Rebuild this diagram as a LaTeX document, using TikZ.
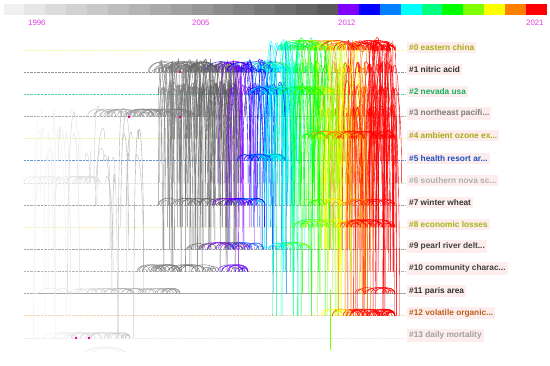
\documentclass[tikz,border=0pt]{standalone}
\usepackage{fontspec}
\setmainfont{Liberation Sans}
\definecolor{c0}{RGB}{240,240,240}
\definecolor{c1}{RGB}{230,230,230}
\definecolor{c2}{RGB}{220,220,220}
\definecolor{c3}{RGB}{210,210,210}
\definecolor{c4}{RGB}{200,200,200}
\definecolor{c5}{RGB}{190,190,190}
\definecolor{c6}{RGB}{180,180,180}
\definecolor{c7}{RGB}{170,170,170}
\definecolor{c8}{RGB}{160,160,160}
\definecolor{c9}{RGB}{150,150,150}
\definecolor{c10}{RGB}{140,140,140}
\definecolor{c11}{RGB}{130,130,130}
\definecolor{c12}{RGB}{120,120,120}
\definecolor{c13}{RGB}{110,110,110}
\definecolor{c14}{RGB}{100,100,100}
\definecolor{c15}{RGB}{90,90,90}
\definecolor{c16}{RGB}{128,0,255}
\definecolor{c17}{RGB}{0,0,255}
\definecolor{c18}{RGB}{0,128,255}
\definecolor{c19}{RGB}{0,255,255}
\definecolor{c20}{RGB}{0,255,128}
\definecolor{c21}{RGB}{0,255,0}
\definecolor{c22}{RGB}{128,255,0}
\definecolor{c23}{RGB}{255,255,0}
\definecolor{c24}{RGB}{255,128,0}
\definecolor{c25}{RGB}{255,0,0}
\definecolor{yearmag}{RGB}{224,60,224}
\definecolor{lblbg}{RGB}{253,237,237}
\definecolor{rl0}{RGB}{250,245,160}
\definecolor{rl1}{RGB}{150,150,150}
\definecolor{rl2}{RGB}{80,210,170}
\definecolor{rl3}{RGB}{170,170,170}
\definecolor{rl4}{RGB}{245,240,170}
\definecolor{rl5}{RGB}{100,150,210}
\definecolor{rl6}{RGB}{225,225,225}
\definecolor{rl7}{RGB}{165,165,165}
\definecolor{rl8}{RGB}{248,238,180}
\definecolor{rl9}{RGB}{160,160,160}
\definecolor{rl10}{RGB}{180,180,180}
\definecolor{rl11}{RGB}{165,165,165}
\definecolor{rl12}{RGB}{250,215,170}
\definecolor{rl13}{RGB}{235,235,235}
\definecolor{lc0}{RGB}{175,170,20}
\definecolor{lc1}{RGB}{50,50,50}
\definecolor{lc2}{RGB}{20,175,95}
\definecolor{lc3}{RGB}{125,125,125}
\definecolor{lc4}{RGB}{168,168,20}
\definecolor{lc5}{RGB}{30,80,190}
\definecolor{lc6}{RGB}{175,175,175}
\definecolor{lc7}{RGB}{55,55,55}
\definecolor{lc8}{RGB}{168,180,20}
\definecolor{lc9}{RGB}{65,65,65}
\definecolor{lc10}{RGB}{65,65,65}
\definecolor{lc11}{RGB}{50,50,50}
\definecolor{lc12}{RGB}{190,95,30}
\definecolor{lc13}{RGB}{160,160,160}
\tikzset{
  arcline/.style={line width=0.4pt},
  rowline/.style={line width=0.7pt, dash pattern=on 0.7pt off 0.7pt},
  lbl/.style={anchor=west, fill=lblbg, inner xsep=2pt, inner ysep=2.5pt, font=\bfseries\fontsize{8.3}{9}\selectfont},
  yearlbl/.style={anchor=west, text=yearmag, inner sep=0pt, font=\fontsize{7.8}{9}\selectfont},
  magdot/.style={fill=magenta, inner sep=0pt, minimum size=1.6pt}
}
% row arcs: #1 row, #2 xs, #3 xe, #4 count, #5 hmax, #6 maxspan, #7 colour base
\newcommand\rowarcs[7]{%
  \pgfmathsetmacro\ry{50+22.15*#1}%
  \foreach \k in {1,...,#4}{%
    \pgfmathsetmacro\xa{#2+rnd*(#3-#2-4)}%
    \pgfmathsetmacro\xb{min(#3,\xa+4+rnd*#6)}%
    \pgfmathsetmacro\hh{min(#5,0.45*(\xb-\xa)+1.5)}%
    \pgfmathtruncatemacro\ci{max(0,min(25,(\xb-#7)/13.5+(rnd-0.5)*2.5))}%
    \draw[c\ci,arcline] (\xa,\ry) .. controls (\xa,\ry-\hh) and (\xb,\ry-\hh) .. (\xb,\ry);
  }}
% inter-row links: #1 count, #2 xs, #3 xe, #4 topmin, #5 topmax, #6 botmax, #7 colour base
\newcommand\rowlinks[7]{%
  \foreach \k in {1,...,#1}{%
    \pgfmathsetmacro\xa{#2+rnd*(#3-#2)}%
    \pgfmathsetmacro\xb{\xa+(rnd-0.5)*18}%
    \pgfmathtruncatemacro\ra{#4+rnd*(#5-#4+0.99)}%
    \pgfmathtruncatemacro\rb{min(#6,\ra+1+rnd*(#6-\ra))}%
    \pgfmathsetmacro\ya{50+22.15*\ra}%
    \pgfmathsetmacro\yb{50+22.15*\rb}%
    \pgfmathsetmacro\yt{\ya-10-rnd*12}%
    \pgfmathtruncatemacro\ci{max(0,min(25,(\xa-#7)/13.5+(rnd-0.5)*2.5))}%
    \draw[c\ci,arcline] (\xb,\yb) .. controls (\xb,\yt) and (\xa,\yt) .. (\xa,\ya);
  }}
\begin{document}
\begin{tikzpicture}[x=1pt,y=-1pt]
\useasboundingbox (0,0) rectangle (550,365);
\fill[white] (0,0) rectangle (550,365);
\pgfmathsetseed{7}
% colour bar
\foreach \i in {0,...,25}
  \fill[c\i] ({3.5+20.9*\i},3.5) rectangle ({3.5+20.9*(\i+1)},14.5);
\node[yearlbl] (y1996) at (28,23) {1996};
\node[yearlbl] (y2005) at (192,23) {2005};
\node[yearlbl] (y2012) at (338,23) {2012};
\node[yearlbl] (y2021) at (526,23) {2021};
% row lines
\foreach \r in {0,...,13}
  \draw[rl\r,rowline] (24,{50+22.15*\r}) -- (405,{50+22.15*\r});
\draw[rl11,line width=1.4pt] (38,{50+22.15*11}) -- (405,{50+22.15*11});
% inter-row links
\rowlinks{40}{40}{140}{3}{6}{13}{45}
\rowlinks{200}{158}{240}{1}{2}{10}{20}
\rowlinks{100}{225}{285}{1}{2}{9}{20}
\rowlinks{120}{270}{320}{0}{2}{12}{20}
\rowlinks{300}{315}{395}{0}{4}{12}{20}
\draw[c22,arcline] (330,290) -- (330,350);
% row arcs
\rowarcs{0}{280}{395}{70}{13}{25}{20}
\rowarcs{1}{142}{290}{90}{14}{30}{20}
\rowarcs{2}{245}{335}{50}{10}{25}{20}
\rowarcs{3}{85}{195}{45}{10}{25}{20}
\rowarcs{4}{300}{395}{45}{10}{25}{20}
\rowarcs{5}{235}{285}{35}{9}{20}{20}
\rowarcs{6}{15}{100}{20}{9}{30}{60}
\rowarcs{7}{155}{265}{40}{9}{25}{20}
\rowarcs{7}{300}{395}{30}{8}{20}{20}
\rowarcs{8}{288}{395}{45}{10}{25}{20}
\rowarcs{9}{180}{310}{45}{9}{25}{20}
\rowarcs{10}{135}{248}{40}{9}{25}{20}
\rowarcs{11}{38}{180}{30}{7}{30}{50}
\rowarcs{11}{355}{395}{10}{8}{25}{20}
\rowarcs{12}{320}{395}{45}{9}{25}{20}
\rowarcs{13}{38}{130}{25}{7}{30}{70}
\draw[c2,arcline] (85,352) .. controls (95,345) and (115,345) .. (125,352);
\draw[c1,arcline] (92,352) .. controls (100,347) and (112,347) .. (120,352);
% highlighted nodes
\node[magdot] (m1) at (180,72) {};
\node[magdot] (m2) at (129,117) {};
\node[magdot] (m3) at (180,117) {};
\node[magdot] (m4) at (76,338) {};
\node[magdot] (m5) at (89,338) {};
\draw[c24,line width=0.8pt] (362,49) circle (2.6);
\draw[c25,line width=0.8pt] (375,49) circle (2.2);
\draw[c25,line width=0.8pt] (388,49) circle (2.2);
% labels
\node[lbl,text=lc0] (l0) at (407,47.3) {\#0 eastern china};
\node[lbl,text=lc1] (l1) at (407,69.45) {\#1 nitric acid};
\node[lbl,text=lc2] (l2) at (407,91.6) {\#2 nevada usa};
\node[lbl,text=lc3] (l3) at (407,113.75) {\#3 northeast pacifi...};
\node[lbl,text=lc4] (l4) at (407,135.9) {\#4 ambient ozone ex...};
\node[lbl,text=lc5] (l5) at (407,158.05) {\#5 health resort ar...};
\node[lbl,text=lc6] (l6) at (407,180.2) {\#6 southern nova sc...};
\node[lbl,text=lc7] (l7) at (407,202.35) {\#7 winter wheat};
\node[lbl,text=lc8] (l8) at (407,224.5) {\#8 economic losses};
\node[lbl,text=lc9] (l9) at (407,246.65) {\#9 pearl river delt...};
\node[lbl,text=lc10] (l10) at (407,268.8) {\#10 community charac...};
\node[lbl,text=lc11] (l11) at (407,290.95) {\#11 paris area};
\node[lbl,text=lc12] (l12) at (407,313.1) {\#12 volatile organic...};
\node[lbl,text=lc13] (l13) at (407,335.25) {\#13 daily mortality};
\end{tikzpicture}
\end{document}
